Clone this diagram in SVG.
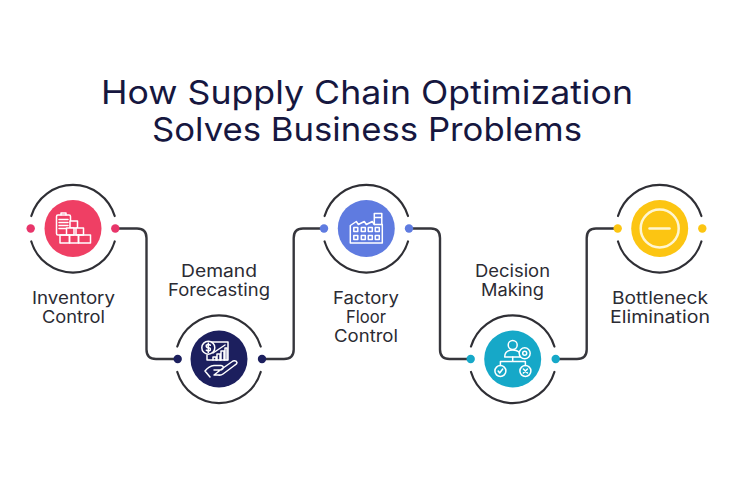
<svg xmlns="http://www.w3.org/2000/svg" width="736" height="480" viewBox="0 0 736 480">
<style>
.title{font-family:"Inter","Liberation Sans",sans-serif;font-size:33px;fill:#16173f;text-anchor:middle}
.label{font-family:"Inter","Liberation Sans",sans-serif;font-size:17px;fill:#2b2b33;text-anchor:middle}
.ring{fill:none;stroke:#2f2f35;stroke-width:2.2;stroke-linecap:round}
.conn{fill:none;stroke:#36363c;stroke-width:2.4}
.ic{fill:none;stroke:#fff;stroke-width:1.5;stroke-linejoin:round;stroke-linecap:round}
</style>
<defs>
<g id="rings">
<path class="ring" d="M-41.700-12.500A43.500 43.500 0 0 1 41.700-12.500"/>
<path class="ring" d="M-41.700 13A43.500 43.500 0 0 0 41.700 13"/>
</g>
</defs>
<rect width="736" height="480" fill="#fff"/>
<g id="title">
<text class="title" x="367" y="104" textLength="532" lengthAdjust="spacingAndGlyphs">How Supply Chain Optimization</text>
<text class="title" x="367" y="141" textLength="430" lengthAdjust="spacingAndGlyphs">Solves Business Problems</text>
</g>
<g id="connectors">
<path class="conn" d="M115 228.500H137Q146.500 228.500 146.500 238V349.500Q146.500 359 156 359H178"/>
<path class="conn" d="M262 359H284Q293.700 359 293.700 349.500V238Q293.700 228.500 303 228.500H324"/>
<path class="conn" d="M409 228.500H431Q440 228.500 440 238V349.500Q440 359 449.500 359H471"/>
<path class="conn" d="M556 359H577Q586.700 359 586.700 349.500V238Q586.700 228.500 596 228.500H618"/>
</g>
<g id="node-inventory">
<use href="#rings" x="73" y="228.500"/>
<circle cx="73" cy="228.500" r="28.500" fill="#ef3f64"/>
<circle cx="30.700" cy="228.500" r="4.200" fill="#e8356a"/>
<circle cx="115.300" cy="228.500" r="4.200" fill="#e8356a"/>
<g class="ic" transform="translate(73 228.500)">
<rect x="-16.500" y="-13.500" width="14" height="20" rx="1.500"/>
<path d="M-12-13.500V-15.500H-7V-13.500M-14-9H-5M-14-6H-5M-14-3H-5M-14 0H-7"/>
<rect x="-3" y="-7.500" width="7.500" height="7" fill="#ef3f64"/>
<rect x="-6.500" y="-0.500" width="7.500" height="7" fill="#ef3f64"/>
<rect x="3" y="-0.500" width="7.500" height="7" fill="#ef3f64"/>
<rect x="-13" y="6.500" width="9.500" height="8"/>
<rect x="-3.500" y="6.500" width="9" height="8"/>
<rect x="5.500" y="6.500" width="12" height="8"/>
</g>
<text class="label" x="73.500" y="303.500" textLength="83" lengthAdjust="spacingAndGlyphs">Inventory</text>
<text class="label" x="73.500" y="322.500" textLength="63" lengthAdjust="spacingAndGlyphs">Control</text>
</g>
<g id="node-demand">
<use href="#rings" x="219" y="359"/>
<circle cx="219" cy="359" r="28.500" fill="#1c1f5e"/>
<circle cx="177.700" cy="359" r="4.200" fill="#1c1f5e"/>
<circle cx="262" cy="359" r="4.200" fill="#1c1f5e"/>
<g class="ic" transform="translate(219 359)">
<path d="M-8-17H9V1H-12V-4"/>
<circle cx="-10.700" cy="-11.300" r="6.500" fill="#1c1f5e"/>
<path d="M-8.700-13.800Q-10.700-15.300-12.700-13.800Q-13.200-11.300-10.700-11.300Q-8.200-11.300-8.700-8.800Q-10.700-7.300-12.700-8.800M-10.700-16V-6.500"/>
<path d="M-6 1V-2H-3V1M-2 1V-5H1V1M2 1V-8H5V1M6 1V-11H8V1M-6-6L6-14"/>
<path d="M-9 18L-14 12Q-10 7-5 6.500H2Q5 7 4 9.500Q3 11 0 11H-5M2 10.500L14 2Q17 1 18 3.500Q18 5 16 6L4 15Q2 16.500-1 16H-5Z"/>
</g>
<text class="label" x="219" y="276.500" textLength="76" lengthAdjust="spacingAndGlyphs">Demand</text>
<text class="label" x="219" y="295.500" textLength="102" lengthAdjust="spacingAndGlyphs">Forecasting</text>
</g>
<g id="node-factory">
<use href="#rings" x="366.300" y="228.500"/>
<circle cx="366.300" cy="228.500" r="28.500" fill="#5f7be0"/>
<circle cx="324" cy="228.500" r="4.200" fill="#5f7be0"/>
<circle cx="409" cy="228.500" r="4.200" fill="#5f7be0"/>
<g class="ic" transform="translate(366.300 228.500)">
<path d="M-16 14.500V-3L-10-7L-8-4L-2-7L0-4L6-7L8-4H16V14.500Z"/>
<path d="M8-4V-15H15.500V-4M8-11H15.500"/>
<rect x="-12.500" y="-1" width="4" height="4"/><rect x="-5" y="-1" width="4" height="4"/><rect x="2" y="-1" width="4" height="4"/><rect x="9" y="-1" width="4" height="4"/>
<rect x="-12.500" y="7" width="4" height="4"/><rect x="-5" y="7" width="4" height="4"/><rect x="2" y="7" width="4" height="4"/><rect x="9" y="7" width="4" height="4"/>
</g>
<text class="label" x="366" y="303.500" textLength="66" lengthAdjust="spacingAndGlyphs">Factory</text>
<text class="label" x="366" y="322.500" textLength="40" lengthAdjust="spacingAndGlyphs">Floor</text>
<text class="label" x="366" y="341.500" textLength="64" lengthAdjust="spacingAndGlyphs">Control</text>
</g>
<g id="node-decision">
<use href="#rings" x="512.700" y="359"/>
<circle cx="512.700" cy="359" r="28.500" fill="#16a8c8"/>
<circle cx="470.700" cy="359" r="4.200" fill="#16a8c8"/>
<circle cx="555.700" cy="359" r="4.200" fill="#16a8c8"/>
<g class="ic" transform="translate(512.700 359)">
<circle cx="0" cy="-14" r="4.500"/>
<path d="M-8-2Q-8-9 0-9Q8-9 8-2Z"/>
<circle cx="12" cy="-5.700" r="5.500" fill="#16a8c8"/><circle cx="12" cy="-5.700" r="2"/>
<path d="M0-2V2.500M-12.300 2.500H12.700V6.500M-12.300 2.500V6.500"/>
<circle cx="-12.300" cy="12" r="5.500"/><circle cx="12.700" cy="12" r="5.500"/>
<path d="M-14.500 12L-13 14L-10 10M10.700 10L14.700 14M14.700 10L10.700 14"/>
</g>
<text class="label" x="512.500" y="276.500" textLength="75" lengthAdjust="spacingAndGlyphs">Decision</text>
<text class="label" x="512.500" y="295.500" textLength="63" lengthAdjust="spacingAndGlyphs">Making</text>
</g>
<g id="node-bottleneck">
<use href="#rings" x="659.700" y="228.500"/>
<circle cx="659.700" cy="228.500" r="28.500" fill="#fcc512"/>
<circle cx="617.700" cy="228.500" r="4.200" fill="#fcc512"/>
<circle cx="702.300" cy="228.500" r="4.200" fill="#fcc512"/>
<circle cx="659.700" cy="228.500" r="19" fill="none" stroke="#fff6d0" stroke-width="2.500"/>
<path d="M649.500 228.500H669.500" stroke="#fff6d0" stroke-width="2.500" stroke-linecap="round"/>
<text class="label" x="660" y="303.500" textLength="96" lengthAdjust="spacingAndGlyphs">Bottleneck</text>
<text class="label" x="660" y="322.500" textLength="100" lengthAdjust="spacingAndGlyphs">Elimination</text>
</g>
</svg>
